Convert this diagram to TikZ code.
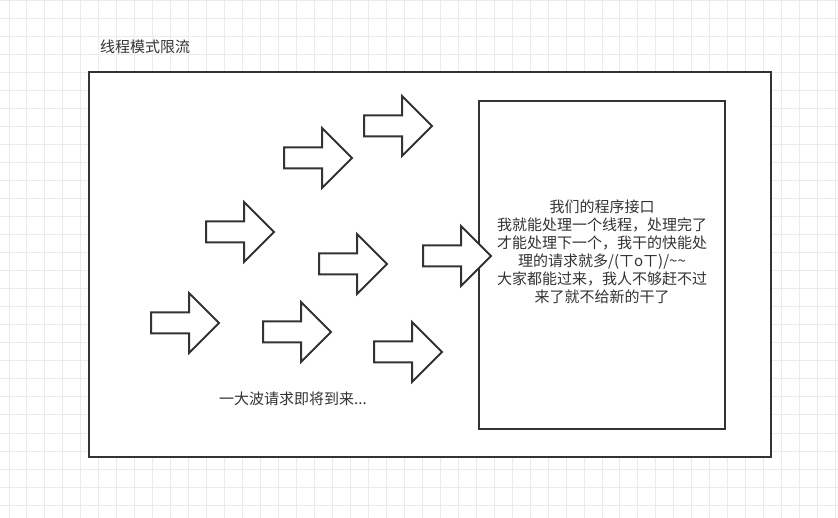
\documentclass[tikz,border=0pt]{standalone}
\usepackage{fontspec}
\setmainfont{Noto Sans CJK SC}
\usepackage{tikz}
\usetikzlibrary{shapes.arrows}
\definecolor{inkgray}{HTML}{333333}
\definecolor{gridgray}{HTML}{EBEBEB}
\tikzset{
  grid line/.style={
    gridgray,line width=1pt
  },
  frame box/.style={
    draw=inkgray,fill=white,line width=2pt,inner sep=0pt
  },
  req arrow/.style={
    single arrow,draw=inkgray,fill=white,line width=2pt,
    minimum height=68pt,inner xsep=0pt,inner ysep=9.5pt,outer sep=0pt,
    single arrow head extend=19.5pt,single arrow tip angle=90,
    anchor=tail
  },
  label text/.style={
    text=inkgray,inner sep=0pt,
    font=\fontsize{15}{18}\selectfont
  }
}

\begin{document}
\begin{tikzpicture}[x=1pt,y=-1pt]
  \useasboundingbox (0,0) rectangle (838,518);
  \fill[white] (0,0) rectangle (838,518);

  \foreach \i in {0,...,46}
    \draw[grid line] ({9+17.97*\i},0) -- ({9+17.97*\i},518);
  \foreach \j in {0,...,28}
    \draw[grid line] (0,{1+18*\j}) -- (838,{1+18*\j});

  \node[label text,anchor=west] (title) at (100,47) {线程模式限流};

  \node[frame box,minimum width=682pt,minimum height=385pt] (limiter) at (430,264.5) {};
  \node[frame box,minimum width=246pt,minimum height=328pt] (api) at (602,265) {};

  \foreach \n/\x/\y in {1/364/126,2/284/158,3/206/232,4/319/264,
                        5/423/256,6/151/323,7/263/332,8/374/352}
    \node[req arrow] (req\n) at (\x,\y) {};

  \node[label text,align=center] (apitext) at (602,252)
    {我们的程序接口\\
     我就能处理一个线程，处理完了\\
     才能处理下一个，我干的快能处\\
     理的请求就多/(ㄒoㄒ)/\textasciitilde\textasciitilde\\
     大家都能过来，我人不够赶不过\\
     来了就不给新的干了};

  \node[label text] (wave) at (293,399) {一大波请求即将到来...};
\end{tikzpicture}
\end{document}
